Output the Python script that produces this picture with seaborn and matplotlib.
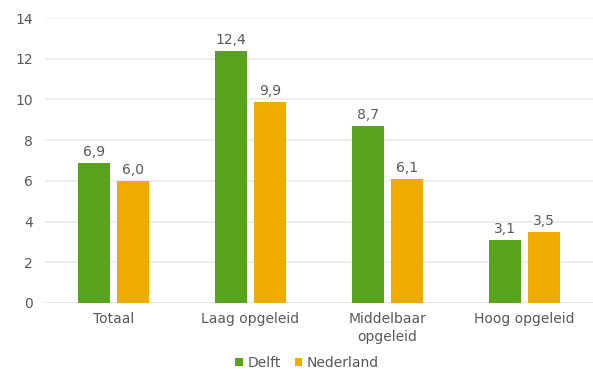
import matplotlib
matplotlib.use("Agg")
import matplotlib.pyplot as plt
import seaborn as sns
import pandas as pd

categories = ["Totaal", "Laag opgeleid", "Middelbaar\nopgeleid", "Hoog opgeleid"]
series = ["Delft", "Nederland"]
delft = [6.9, 12.4, 8.7, 3.1]
nederland = [6.0, 9.9, 6.1, 3.5]
yticks = [0, 2, 4, 6, 8, 10, 12, 14]

colors = {"Delft": "#58a31b", "Nederland": "#f0ab00"}
text_color = "#595959"

df = pd.DataFrame({
    "categorie": categories * 2,
    "reeks": [series[0]] * len(categories) + [series[1]] * len(categories),
    "waarde": delft + nederland,
})

sns.set_style("white")
plt.rcParams["font.family"] = ["DejaVu Sans"]

fig = plt.figure(figsize=(5.93, 3.69), dpi=100)
ax = fig.add_axes([0.076, 0.179, 0.924, 0.772])

sns.barplot(data=df, x="categorie", y="waarde", hue="reeks", order=categories,
            hue_order=series, palette=colors, saturation=1, width=0.57, gap=0.2,
            errorbar=None, ax=ax, zorder=3, legend=True, linewidth=0)

ax.set_ylim(0, 14)
ax.set_yticks(yticks)
ax.set_yticklabels([str(t) for t in yticks])
ax.set_xlim(-0.5, len(categories) - 0.5)
ax.yaxis.grid(True, color="#ebebeb", linewidth=1.2, zorder=0)
ax.set_axisbelow(True)
for side in ["top", "right", "left", "bottom"]:
    ax.spines[side].set_visible(False)
ax.axhline(0, color="#e6e6e6", linewidth=1.2, zorder=2)
ax.set_xlabel("")
ax.set_ylabel("")
ax.tick_params(axis="both", length=0, labelsize=10, colors=text_color, pad=6.5)
ax.tick_params(axis="y", pad=9)
for lbl in ax.get_xticklabels():
    lbl.set_linespacing(1.4)

for container in ax.containers:
    labels = [f"{v:.1f}".replace(".", ",") for v in container.datavalues]
    ax.bar_label(container, labels=labels, padding=2.5, fontsize=10, color=text_color)

handles, labels = ax.get_legend_handles_labels()
ax.legend(handles, labels, loc="center", bbox_to_anchor=(0.478, -0.21),
          ncol=2, frameon=False, fontsize=10, handlelength=0.55, handleheight=0.55,
          handletextpad=0.3, columnspacing=1.0, labelcolor=text_color)

fig.savefig("out.png", dpi=100)
